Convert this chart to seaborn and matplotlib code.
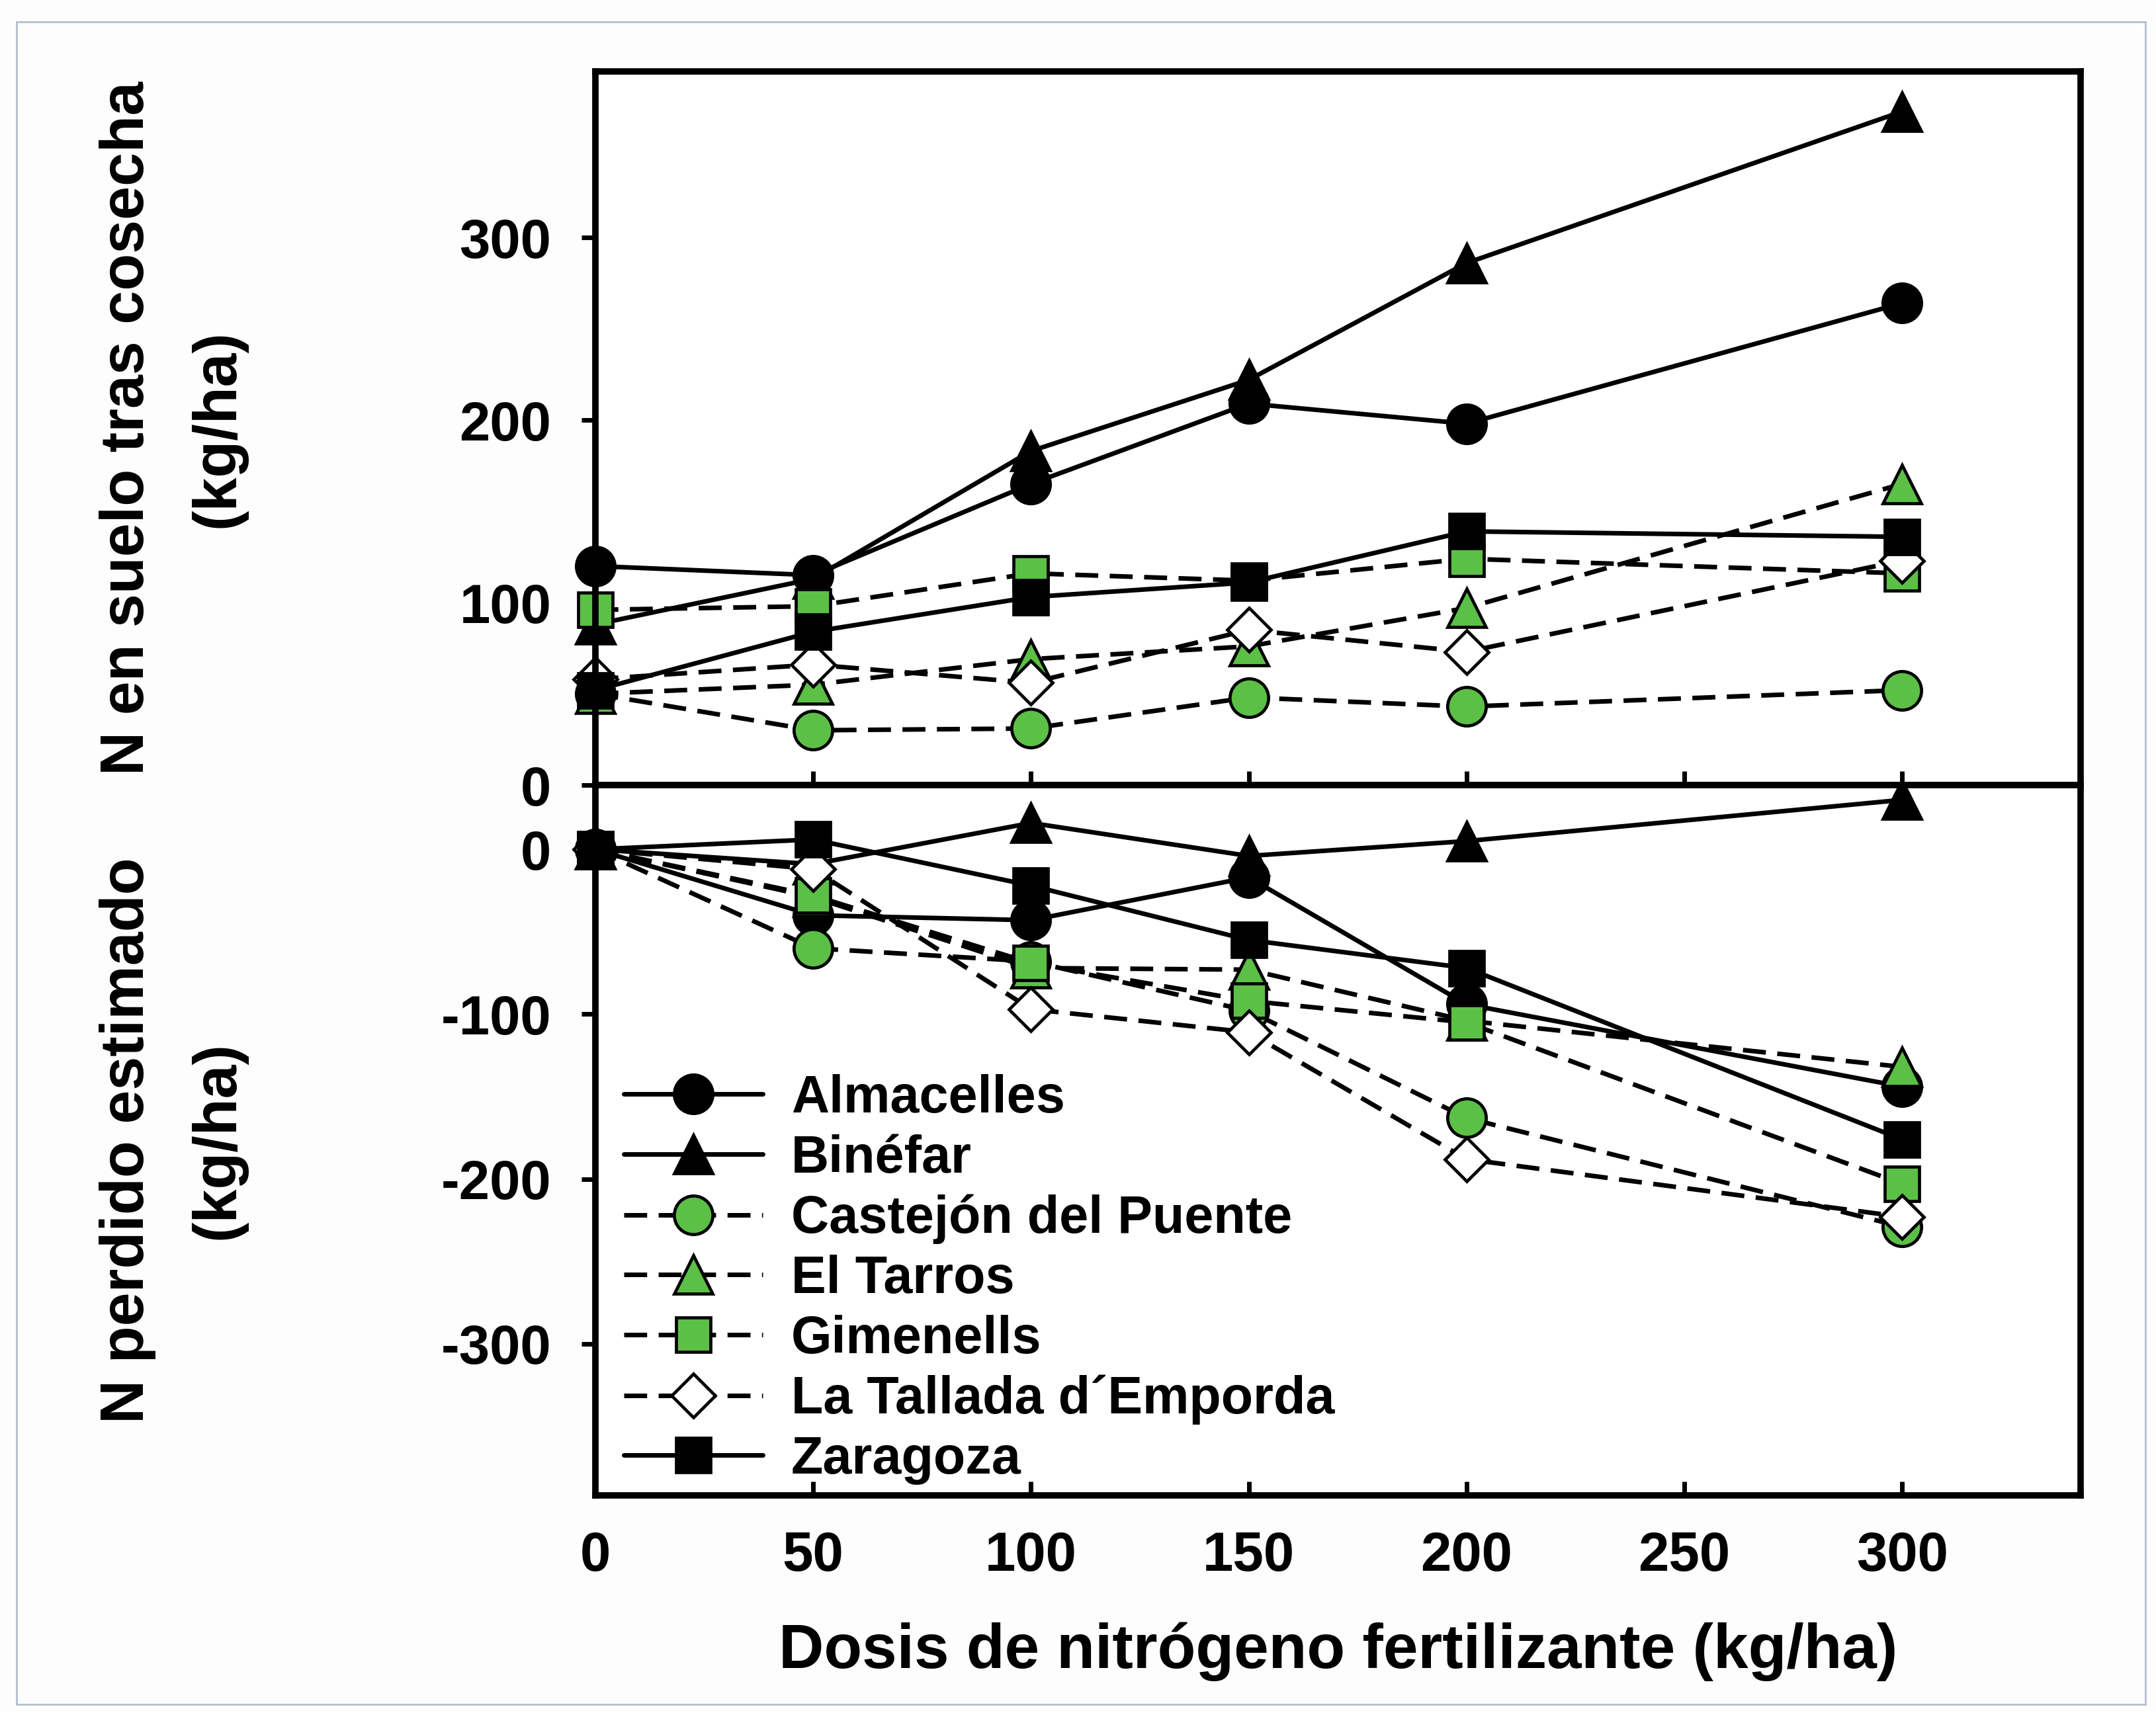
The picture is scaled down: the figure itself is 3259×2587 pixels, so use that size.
import matplotlib
matplotlib.use("Agg")
import matplotlib.pyplot as plt
import matplotlib.patches as mpatches
import seaborn as sns
import pandas as pd

# ---------------- data ----------------
dosis = [0, 50, 100, 150, 200, 300]
sites = ["Almacelles", "Binéfar", "Castejón del Puente", "El Tarros",
         "Gimenells", "La Tallada d´Emporda", "Zaragoza"]

# N en suelo tras cosecha (kg/ha)
almacelles_top = [120, 115, 165, 209, 198, 264]
binefar_top    = [88, 113, 183, 222, 286, 369]
castejon_top   = [50, 30, 31, 48, 43, 52]
eltarros_top   = [50, 55, 69, 76, 97, 165]
gimenells_top  = [96, 98, 116, 112, 124, 116]
latallada_top  = [58, 66, 56, 85, 73, 123]
zaragoza_top   = [52, 84, 103, 111, 139, 136]

# N perdido estimado (kg/ha)
almacelles_bot = [0, -40, -43, -17, -94, -144]
binefar_bot    = [0, -9, 16, -4, 5, 30]
castejon_bot   = [0, -60, -68, -98, -163, -229]
eltarros_bot   = [0, -29, -72, -73, -104, -132]
gimenells_bot  = [0, -28, -69, -92, -105, -203]
latallada_bot  = [0, -12, -97, -111, -188, -223]
zaragoza_bot   = [0, 6, -22, -55, -72, -176]

top_vals = [almacelles_top, binefar_top, castejon_top, eltarros_top,
            gimenells_top, latallada_top, zaragoza_top]
bot_vals = [almacelles_bot, binefar_bot, castejon_bot, eltarros_bot,
            gimenells_bot, latallada_bot, zaragoza_bot]

xticks = [0, 50, 100, 150, 200, 250, 300]
yticks_top = [0, 100, 200, 300]
yticks_bot = [0, -100, -200, -300]
xlabel = "Dosis de nitrógeno fertilizante (kg/ha)"
ylabel_top = "N en suelo tras cosecha\n(kg/ha)"
ylabel_bot = "N perdido estimado\n(kg/ha)"

# ---------------- style ----------------
sns.set_theme(style="white")
plt.rcParams["font.family"] = ["Liberation Sans", "DejaVu Sans"]
plt.rcParams["font.weight"] = "bold"
for k in ("text.color", "axes.labelcolor", "xtick.color", "ytick.color"):
    plt.rcParams[k] = "black"

GREEN = "#5cbf46"
styles = {
    "Almacelles":            dict(marker="o", mfc="black", ls="-",  ms=42),
    "Binéfar":               dict(marker="^", mfc="black", ls="-",  ms=42),
    "Castejón del Puente":   dict(marker="o", mfc=GREEN,   ls="--", ms=42),
    "El Tarros":             dict(marker="^", mfc=GREEN,   ls="--", ms=42),
    "Gimenells":             dict(marker="s", mfc=GREEN,   ls="--", ms=37),
    "La Tallada d´Emporda":  dict(marker="D", mfc="white", ls="--", ms=34),
    "Zaragoza":              dict(marker="s", mfc="black", ls="-",  ms=37),
}

W, H = 3259, 2587
fig = plt.figure(figsize=(W / 100, H / 100), dpi=100)
fig.patch.set_facecolor("#fdfdfd")

# outer frame
fig.patches.append(mpatches.Rectangle((25 / W, 1 - 2577 / H), (3243 - 25) / W,
                                      (2577 - 33) / H, transform=fig.transFigure,
                                      fill=False, edgecolor="#b4c0cf", lw=2.0))

left, right = 900 / W, 3145 / W
y_top, y_mid, y_bot = 1 - 108 / H, 1 - 1187 / H, 1 - 2261 / H
ax1 = fig.add_axes([left, y_mid, right - left, y_top - y_mid])
ax2 = fig.add_axes([left, y_bot, right - left, y_mid - y_bot])

LW = 5.0
DASH = (0, (5, 2.5))


def draw(ax, vals):
    for site, v in zip(sites, vals):
        st = styles[site]
        df = pd.DataFrame({"dosis": dosis, "N": v})
        sns.lineplot(data=df, x="dosis", y="N", ax=ax, color="black",
                     errorbar=None, linewidth=LW,
                     linestyle=("-" if st["ls"] == "-" else DASH),
                     marker=st["marker"], markersize=st["ms"],
                     markerfacecolor=st["mfc"], markeredgecolor="black",
                     markeredgewidth=3.4, clip_on=False, label=site,
                     legend=False)


draw(ax1, top_vals)
draw(ax2, bot_vals)

tick_font = dict(fontsize=60, fontweight="bold")
for ax in (ax1, ax2):
    ax.set_facecolor("white")
    ax.set_xlim(0, 341)
    for sp in ax.spines.values():
        sp.set_visible(True)
        sp.set_color("black")
        sp.set_linewidth(7)
    ax.set_xlabel("")
    ax.set_ylabel("")
    ax.tick_params(axis="y", direction="out", length=15, width=5, pad=33,
                   colors="black", left=True)
    ax.tick_params(axis="x", direction="in", length=15, width=5, pad=38,
                   colors="black", bottom=True)

ax1.set_ylim(0, 391)
ax2.set_ylim(-392, 39)
ax1.set_xticks(xticks)
ax1.set_xticklabels([])
ax2.set_xticks(xticks)
ax2.set_xticklabels([str(t) for t in xticks], **tick_font)
ax1.set_yticks(yticks_top)
ax1.set_yticklabels([str(t) for t in yticks_top], **tick_font)
ax2.set_yticks(yticks_bot)
ax2.set_yticklabels([str(t) for t in yticks_bot], **tick_font)

ax2.set_xlabel(xlabel, fontsize=68, fontweight="bold", labelpad=44)

ax1.set_ylabel(ylabel_top, fontsize=66, fontweight="bold", linespacing=1.75)
ax2.set_ylabel(ylabel_bot, fontsize=66, fontweight="bold", linespacing=1.75)
ax1.yaxis.set_label_coords(-0.235, 0.5)
ax2.yaxis.set_label_coords(-0.235, 0.5)

handles, labels = ax2.get_legend_handles_labels()
leg = ax2.legend(handles, labels, loc="lower left", bbox_to_anchor=(0.012, 0.0),
                 frameon=False, prop=dict(weight="bold", size=57),
                 handlelength=2.65, handletextpad=0.55, labelspacing=0.2,
                 borderpad=0.2, borderaxespad=0.0, numpoints=1)

fig.savefig("out.png", dpi=100, facecolor=fig.get_facecolor())
